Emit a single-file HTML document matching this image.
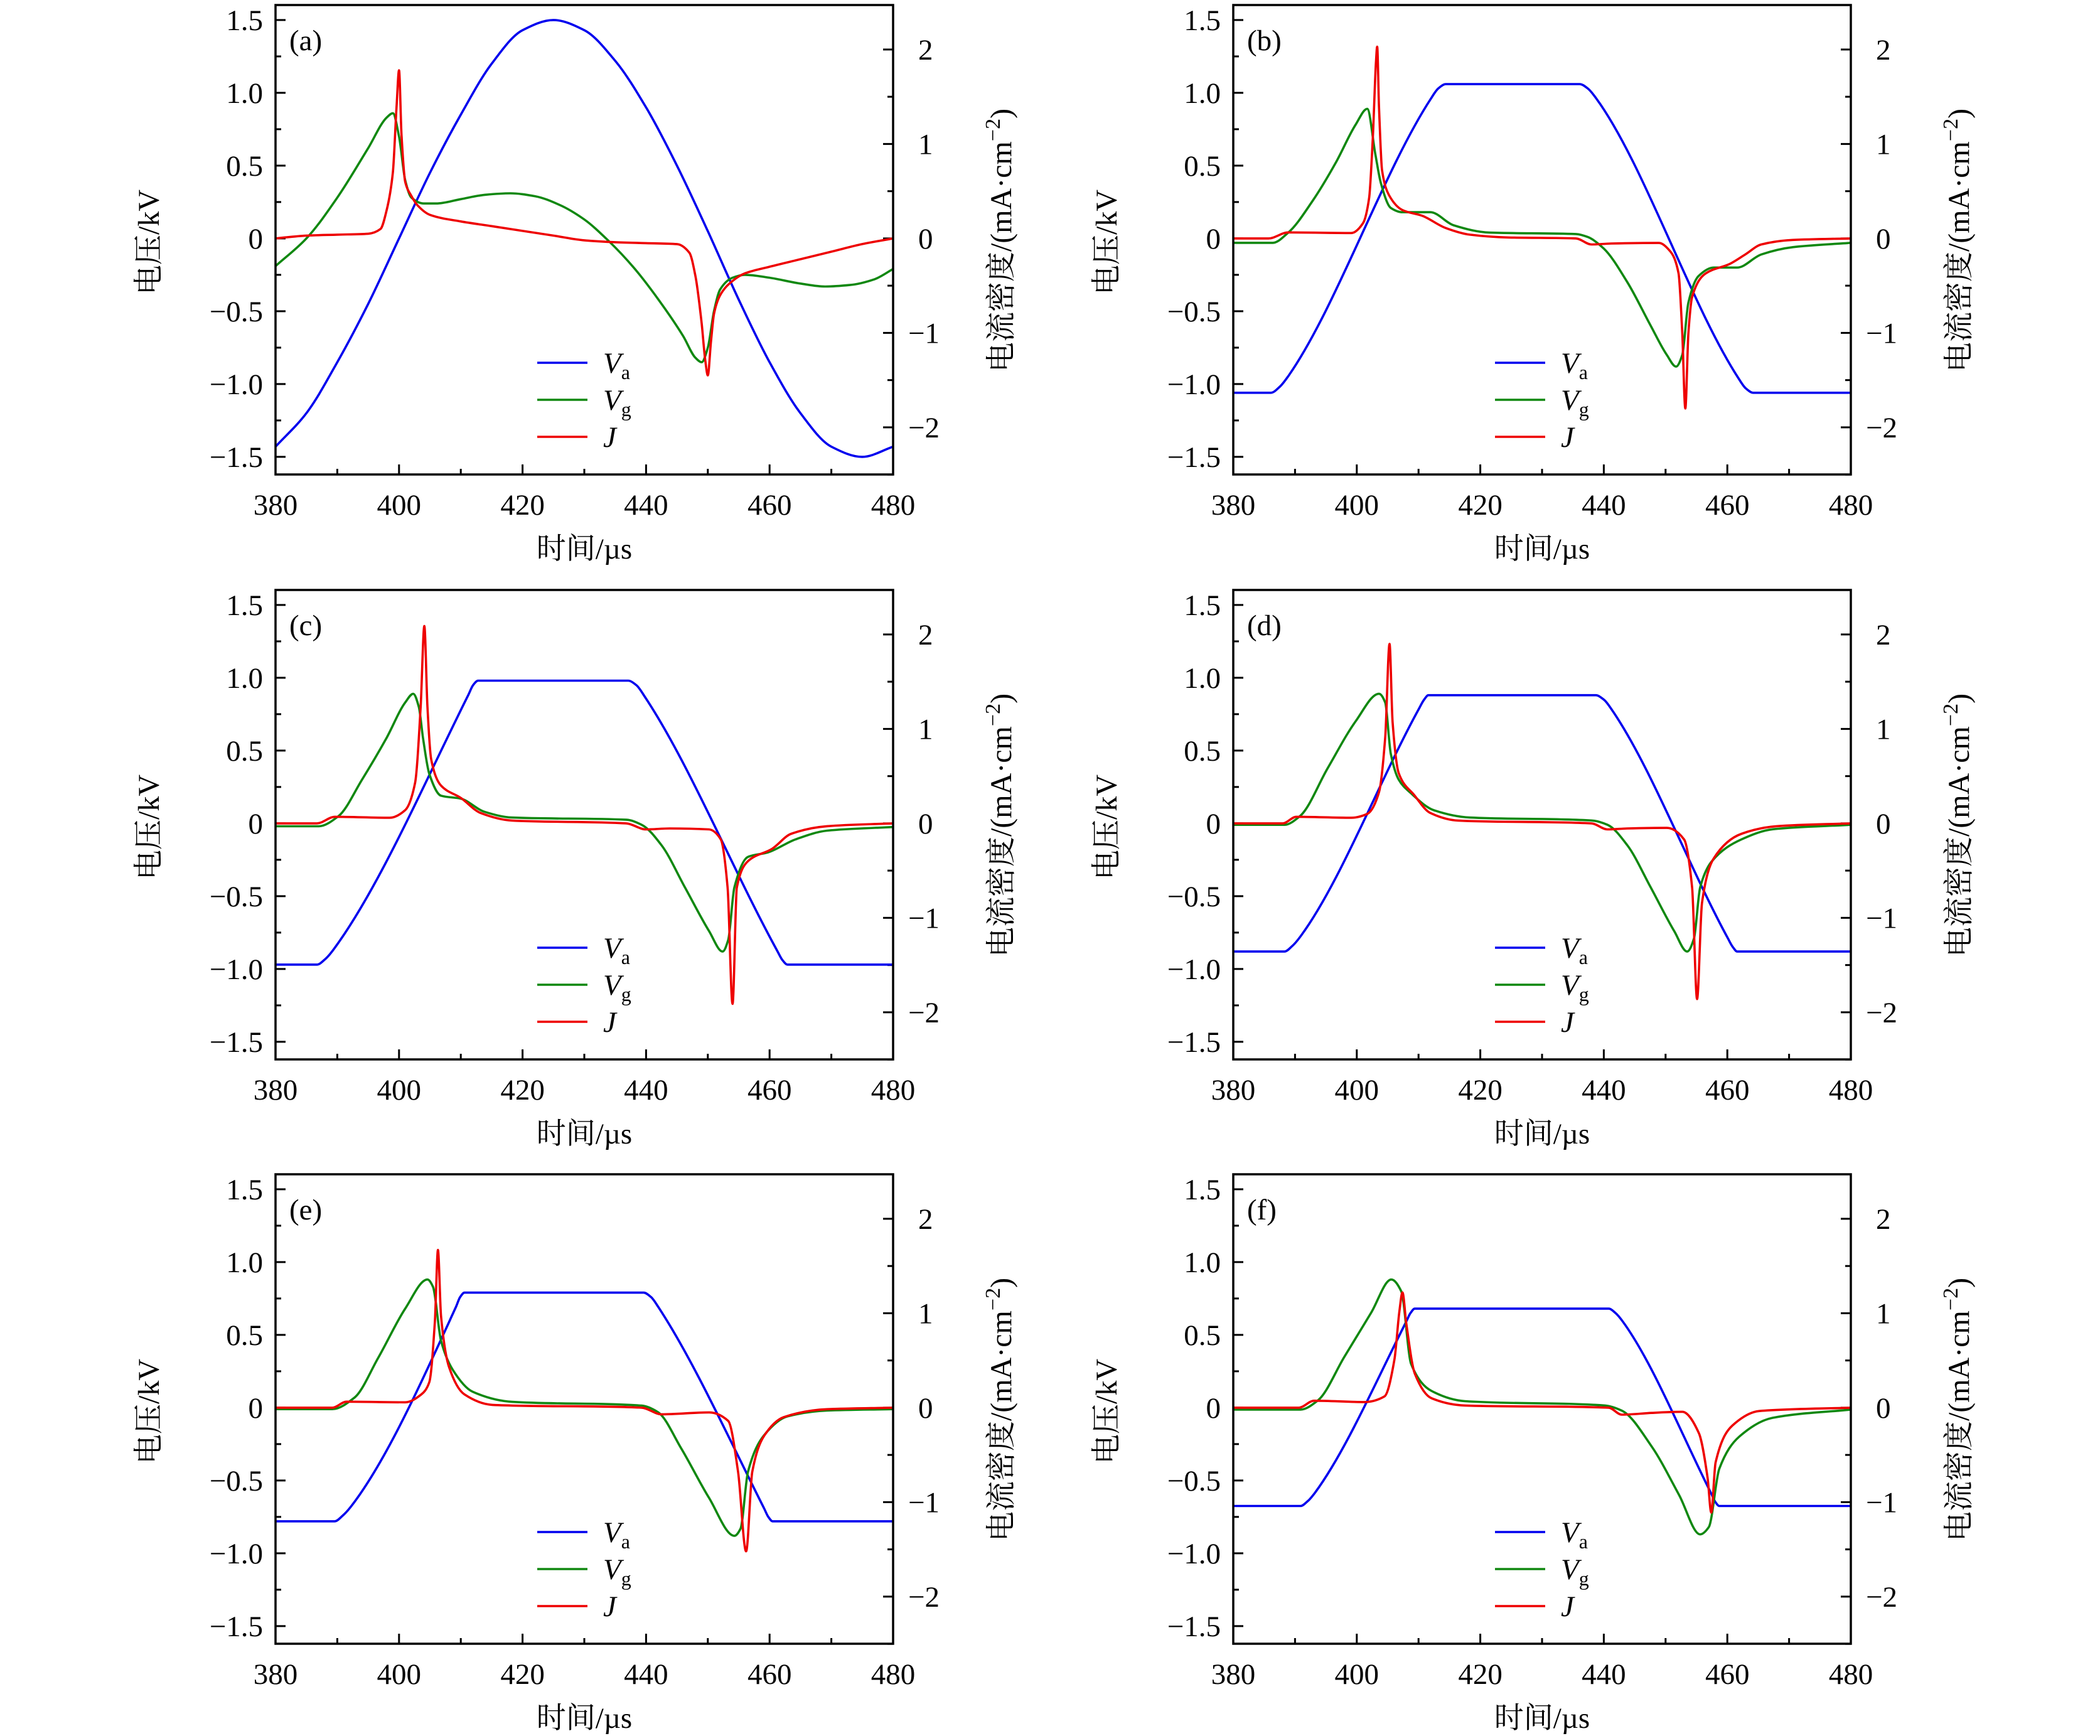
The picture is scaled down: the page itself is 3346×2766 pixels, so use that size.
<!DOCTYPE html>
<html><head><meta charset="utf-8">
<style>
html,body{margin:0;padding:0;background:#fff;}
svg{display:block;}
text{font-family:"Liberation Serif","Noto Serif CJK SC","Noto Sans CJK SC",serif;fill:#000;}
</style></head>
<body>
<svg id="fig" width="3346" height="2766" viewBox="0 0 3346 2766" xmlns="http://www.w3.org/2000/svg"></svg>
<script>
// ---- data (time in µs, voltage in kV, current density in mA/cm^2) ----
const panelLabels = ["(a)","(b)","(c)","(d)","(e)","(f)"];
const xTicks = [380,400,420,440,460,480];
const yTicksLeft = [1.5,1.0,0.5,0,-0.5,-1.0,-1.5];
const yTickLabelsLeft = ["1.5","1.0","0.5","0","\u22120.5","\u22121.0","\u22121.5"];
const yTicksRight = [2,1,0,-1,-2];
const yTickLabelsRight = ["2","1","0","\u22121","\u22122"];

const vaA = [[380,-1.43],[385,-1.2],[390,-0.85],[395,-0.45],[400,0.0],[405,0.45],[410,0.85],[415,1.2],[420,1.43],[425,1.5],[430,1.43],[435,1.22],[440,0.9],[445,0.5],[450,0.05],[455,-0.42],[460,-0.85],[465,-1.2],[470,-1.43],[475,-1.5],[480,-1.43]];
const vgA = [[380,-0.19],[385,0.0],[390,0.28],[395,0.62],[398,0.83],[399,0.86],[400,0.7],[401,0.4],[402,0.28],[404,0.24],[406,0.24],[410,0.27],[414,0.3],[418,0.31],[422,0.29],[426,0.23],[430,0.13],[434,-0.02],[438,-0.2],[442,-0.42],[446,-0.67],[448,-0.82],[449,-0.85],[450,-0.75],[451,-0.5],[452,-0.35],[454,-0.27],[456,-0.25],[460,-0.27],[465,-0.31],[469,-0.33],[473,-0.32],[477,-0.28],[480,-0.21]];
const jA = [[380,0.0],[385,0.03],[390,0.04],[395,0.05],[397,0.1],[398,0.3],[399,0.7],[399.6,1.4],[400,1.78],[400.4,1.1],[401,0.6],[402,0.45],[403,0.35],[405,0.25],[410,0.18],[415,0.13],[420,0.08],[425,0.03],[430,-0.02],[435,-0.04],[440,-0.05],[445,-0.06],[447,-0.15],[448,-0.4],[449,-0.9],[449.6,-1.3],[450,-1.45],[450.5,-1.1],[451,-0.8],[452,-0.6],[454,-0.45],[456,-0.37],[460,-0.3],[465,-0.22],[470,-0.14],[475,-0.06],[480,0.0]];

const vaB = [[380,-1.06],[386.1,-1.06],[387.5,-1.02],[389,-0.94],[412,0.96],[413.2,1.03],[414.4,1.06],[436.1,1.06],[437.4,1.03],[438.8,0.96],[461.8,-0.96],[463,-1.03],[464.2,-1.06],[480,-1.06]];
const vgB = [[380,-0.03],[386.4,-0.03],[388.9,0.04],[392.8,0.255],[396.6,0.52],[399.8,0.78],[401.7,0.89],[403,0.58],[403.9,0.38],[405.5,0.21],[407.4,0.18],[411.9,0.18],[415.7,0.09],[421.5,0.04],[435.5,0.03],[437.4,0.01],[440,-0.07],[443.8,-0.3],[447.6,-0.6],[450.2,-0.8],[451.7,-0.88],[452.7,-0.8],[453.7,-0.44],[455.3,-0.26],[457.8,-0.2],[461.6,-0.2],[465.5,-0.11],[470.6,-0.06],[480,-0.03]];
const jB = [[380,0],[385.7,0],[388.9,0.064],[399.1,0.057],[401,0.16],[402,0.43],[402.6,1.07],[403.1,1.86],[403.3,2.03],[403.6,1.39],[404.1,0.72],[405.2,0.46],[407.4,0.30],[410.6,0.24],[414.4,0.11],[418.3,0.04],[424.6,0.01],[435.5,0],[438,-0.064],[441.2,-0.054],[448.9,-0.048],[450.8,-0.14],[452.1,-0.37],[452.7,-1.0],[453.2,-1.8],[453.7,-1.0],[454.3,-0.62],[456.5,-0.37],[460.4,-0.27],[462.9,-0.17],[465.5,-0.064],[470.6,-0.016],[480,0]];

const vaC = [[380,-0.97],[386.7,-0.97],[388.1,-0.93],[389.5,-0.86],[411.2,0.88],[412,0.95],[412.8,0.98],[437.1,0.98],[438.4,0.95],[439.8,0.87],[461.3,-0.88],[462.1,-0.94],[462.9,-0.97],[480,-0.97]];
const vgC = [[380,-0.02],[387,-0.02],[390.2,0.05],[394,0.3],[397.9,0.58],[401,0.83],[402.3,0.89],[403.2,0.8],[403.9,0.58],[404.9,0.34],[406.8,0.19],[410,0.17],[413.8,0.08],[418.3,0.04],[436.8,0.025],[439.3,-0.01],[442.5,-0.15],[446.3,-0.44],[450.2,-0.74],[452.4,-0.88],[453.3,-0.8],[454.3,-0.44],[456.5,-0.23],[459.7,-0.2],[464.2,-0.11],[469.3,-0.05],[480,-0.025]];
const jC = [[380,0],[386.7,0],[389.6,0.07],[398.5,0.06],[401,0.14],[402.6,0.43],[403.5,1.23],[404.1,2.09],[404.6,1.23],[405.2,0.68],[406.8,0.4],[410,0.27],[413.2,0.11],[418.3,0.03],[436.8,0],[440,-0.064],[443.8,-0.054],[450.2,-0.064],[452.1,-0.17],[453.2,-0.68],[454,-1.91],[454.7,-0.68],[456.5,-0.4],[460.4,-0.27],[463.5,-0.11],[469.3,-0.03],[480,0]];

const vaD = [[380,-0.88],[388.3,-0.88],[389.6,-0.84],[391,-0.77],[410.1,0.79],[410.9,0.85],[411.6,0.88],[438.7,0.88],[440,0.85],[441.3,0.78],[460.1,-0.79],[460.9,-0.85],[461.6,-0.88],[480,-0.88]];
const vgD = [[380,-0.01],[388.3,-0.01],[390.8,0.05],[395.3,0.38],[399.8,0.70],[403.6,0.89],[404.6,0.83],[405.5,0.48],[406.8,0.30],[408.7,0.21],[412.5,0.09],[418.3,0.04],[438,0.02],[440.6,-0.01],[443.8,-0.15],[447.6,-0.44],[451.4,-0.74],[453.5,-0.88],[454.6,-0.79],[455.6,-0.44],[457.5,-0.26],[462.3,-0.11],[467.4,-0.04],[480,-0.01]];
const jD = [[380,0],[388,0],[390.2,0.07],[399.1,0.06],[401.7,0.1],[403.6,0.33],[404.6,0.91],[405.3,1.90],[405.8,1.07],[406.8,0.53],[409.3,0.30],[411.9,0.11],[416.4,0.03],[438,0],[440.6,-0.064],[443.8,-0.054],[450.2,-0.048],[453,-0.17],[454.3,-0.68],[455.1,-1.86],[455.9,-0.84],[457.8,-0.37],[462.3,-0.11],[468,-0.03],[480,0]];

const vaE = [[380,-0.78],[389.6,-0.78],[390.9,-0.74],[392.2,-0.68],[409.2,0.69],[409.9,0.76],[410.6,0.79],[439.6,0.79],[440.8,0.76],[442,0.69],[459.1,-0.69],[459.8,-0.75],[460.5,-0.78],[480,-0.78]];
const vgE = [[380,-0.01],[389.2,-0.01],[392.8,0.07],[396.6,0.34],[401,0.68],[404.6,0.88],[405.5,0.83],[406.8,0.46],[408.7,0.26],[411.9,0.11],[418.3,0.04],[439.3,0.014],[441.9,-0.03],[445.7,-0.28],[450.2,-0.62],[454.3,-0.88],[455.3,-0.83],[456.5,-0.44],[459.1,-0.19],[462.9,-0.06],[469.3,-0.02],[480,-0.01]];
const jE = [[380,0],[389.2,0],[391.5,0.064],[401,0.057],[403.6,0.14],[404.9,0.27],[405.8,0.91],[406.3,1.67],[406.8,0.97],[408.1,0.43],[410.6,0.14],[415.1,0.03],[439.3,0],[442.5,-0.07],[450.2,-0.05],[453.3,-0.14],[454.9,-0.68],[456.2,-1.52],[457.2,-0.68],[459.1,-0.30],[462.3,-0.1],[469.3,-0.016],[480,0]];

const vaF = [[380,-0.675],[390.9,-0.675],[392.1,-0.64],[393.3,-0.58],[408,0.59],[408.7,0.65],[409.4,0.68],[440.8,0.68],[441.9,0.65],[443.1,0.59],[457.4,-0.59],[458.1,-0.65],[458.7,-0.675],[480,-0.675]];
const vgF = [[380,-0.013],[390.9,-0.013],[393.7,0.05],[398,0.35],[402.3,0.65],[405.6,0.88],[407.2,0.8],[408.8,0.3],[412.1,0.115],[417.5,0.045],[440.2,0.015],[442.9,-0.02],[447.8,-0.27],[452.2,-0.6],[455.6,-0.87],[457,-0.82],[458.7,-0.42],[461.9,-0.2],[467.3,-0.07],[480,-0.013]];
const jF = [[380,0],[390.6,0],[393.1,0.074],[401.2,0.06],[404.5,0.12],[406.1,0.51],[406.9,1.02],[407.4,1.22],[408,0.9],[409.4,0.36],[412.1,0.1],[417.5,0.023],[440.8,0],[442.9,-0.074],[447.8,-0.055],[452.7,-0.043],[455.4,-0.27],[456.8,-0.74],[457.4,-1.11],[458.1,-0.58],[460.8,-0.19],[465.2,-0.035],[480,0]];

const vaSeries = [vaA,vaB,vaC,vaD,vaE,vaF];
const vgSeries = [vgA,vgB,vgC,vgD,vgE,vgF];
const jSeries = [jA,jB,jC,jD,jE,jF];

// ---- drawing ----
const NS = "http://www.w3.org/2000/svg";
const svg = document.getElementById('fig');
const PW = 984, PH = 748;
const origins = [[439,8],[1965,8],[439,940],[1965,940],[439,1871],[1965,1871]];
function mk(tag, attrs, parent){const e=document.createElementNS(NS,tag);for(const k in attrs)e.setAttribute(k,attrs[k]);(parent||svg).appendChild(e);return e;}

// monotone cubic path through pixel points
function monoPath(P){
  const n=P.length; if(n<2) return '';
  const dx=[],dy=[],m=[];
  for(let k=0;k<n-1;k++){dx[k]=P[k+1][0]-P[k][0];dy[k]=P[k+1][1]-P[k][1];m[k]=dy[k]/dx[k];}
  const t=[m[0]];
  for(let k=1;k<n-1;k++){
    if(m[k-1]*m[k]<=0) t[k]=0;
    else{const w1=2*dx[k]+dx[k-1],w2=dx[k]+2*dx[k-1];t[k]=(w1+w2)/(w1/m[k-1]+w2/m[k]);}
  }
  t[n-1]=m[n-2];
  let d='M'+P[0][0].toFixed(1)+','+P[0][1].toFixed(1);
  for(let k=0;k<n-1;k++){
    const h=dx[k]/3;
    d+='C'+(P[k][0]+h).toFixed(1)+','+(P[k][1]+t[k]*h).toFixed(1)+' '+(P[k+1][0]-h).toFixed(1)+','+(P[k+1][1]-t[k+1]*h).toFixed(1)+' '+P[k+1][0].toFixed(1)+','+P[k+1][1].toFixed(1);
  }
  return d;
}

origins.forEach((o,i)=>{
  const L=o[0], T=o[1];
  const g = mk('g',{});
  
  
  const xs = t => L + (t-380)/100*PW;
  const yv = v => T + (1.603 - v)*232;
  const yj = j => yv(0) - j*150.5;

  const cp = mk('clipPath',{id:'clip'+i},g);
  mk('rect',{x:L,y:T,width:PW,height:PH},cp);

  const tk = mk('g',{stroke:'#000','stroke-width':3},g);
  
  
  for(let t=380;t<=480;t+=10){const len=(t%20===0)?16:9;mk('line',{x1:xs(t),y1:T+PH,x2:xs(t),y2:T+PH-len},tk);}
  for(let v=-1.5;v<=1.5001;v+=0.25){const maj=Math.abs(Math.round(v*2)-v*2)<1e-6;mk('line',{x1:L,y1:yv(v),x2:L+(maj?16:9),y2:yv(v)},tk);}
  for(let j=-2.5;j<=2.0001;j+=0.5){const maj=Math.abs(Math.round(j)-j)<1e-6;mk('line',{x1:L+PW,y1:yj(j),x2:L+PW-(maj?16:9),y2:yj(j)},tk);}

  xTicks.forEach(t=>{const e=mk('text',{x:xs(t),y:T+PH+64,'font-size':47,'text-anchor':'middle'},g);e.textContent=String(t);
    
    });
  yTicksLeft.forEach((v,k)=>{const e=mk('text',{x:L-20,y:yv(v)+16,'font-size':47,'text-anchor':'end'},g);e.textContent=yTickLabelsLeft[k];
    
    });
  yTicksRight.forEach((j,k)=>{const e=mk('text',{x:L+PW+(j<0?24:40),y:yj(j)+16,'font-size':47,'text-anchor':'start'},g);e.textContent=yTickLabelsRight[k];
    
    });

  const xt=mk('text',{x:L+PW/2,y:T+PH+134,'font-size':47,'text-anchor':'middle'},g);xt.textContent='时间/µs';
  
  
  const ylc=[L-186, T+378];
  const yl=mk('text',{x:0,y:0,'font-size':48,'text-anchor':'middle',transform:`translate(${ylc[0]},${ylc[1]}) rotate(-90)`},g);yl.textContent='电压/kV';
  
  
  const yrc=[L+PW+188, T+375];
  const yr=mk('text',{x:0,y:0,'font-size':48,'text-anchor':'middle',transform:`translate(${yrc[0]},${yrc[1]}) rotate(-90)`},g);
  yr.innerHTML='电流密度/(mA·cm<tspan dy="-18" font-size="34">\u22122</tspan><tspan dy="18">)</tspan>';
  
  

  const cg = mk('g',{'clip-path':`url(#clip${i})`,fill:'none','stroke-width':3.6,'stroke-linejoin':'round'},g);
  function line(data, yf, color, name){
    const pts = data.map(p=>[xs(p[0]), yf(p[1])]);
    const p = mk('path',{d:monoPath(pts),stroke:color},cg);
    
    
  }
  line(vaSeries[i], yv, '#0000ee', 'va-line');
  line(vgSeries[i], yv, '#118811', 'vg-line');
  line(jSeries[i], yj, '#ee0000', 'j-line');

  const fr=mk('rect',{x:L,y:T,width:PW,height:PH,fill:'none',stroke:'#000','stroke-width':3.5},g);
  
  

  const pl=mk('text',{x:L+22,y:T+72,'font-size':47},g);pl.textContent=panelLabels[i];
  
  

  const lg=mk('g',{},g);
  
  
  const items=[['#0000ee','V','a'],['#118811','V','g'],['#ee0000','J','']];
  items.forEach((it,k)=>{
    const yy=T+570+k*59;
    const ln=mk('line',{x1:L+417,y1:yy,x2:L+497,y2:yy,stroke:it[0],'stroke-width':3.6},lg);
    
    
    const tx=mk('text',{x:L+522,y:yy+16,'font-size':47,'font-style':'italic'},lg);
    tx.innerHTML=it[1]+(it[2]?`<tspan font-style="normal" font-size="32" dy="10">${it[2]}</tspan>`:'');
    
    
  });
});
</script>
</body></html>
